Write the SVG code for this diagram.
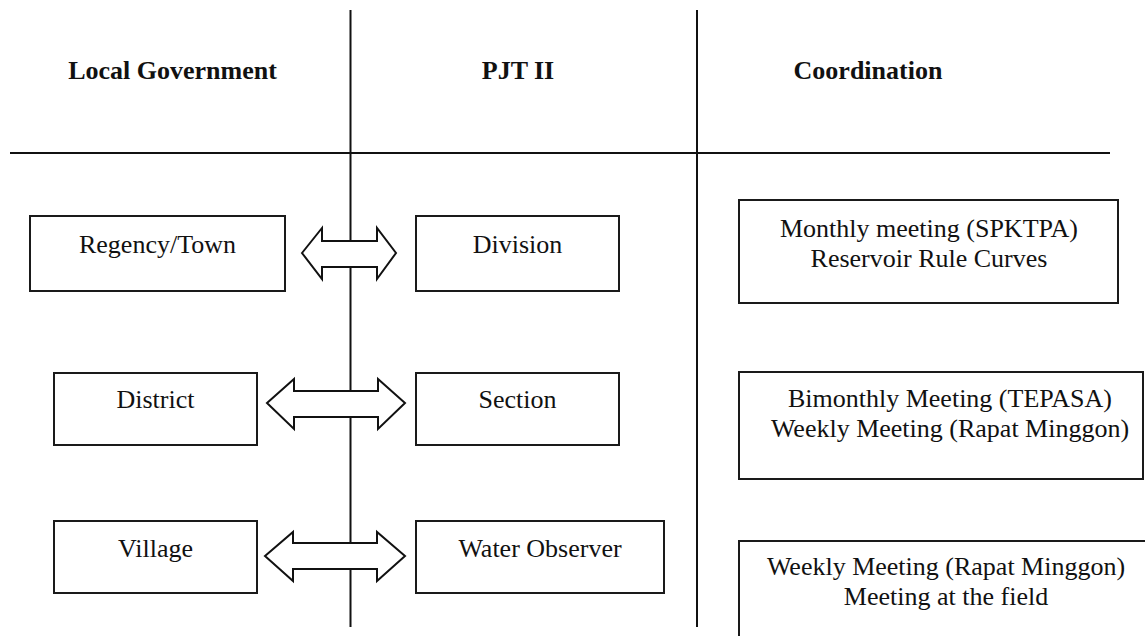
<svg xmlns="http://www.w3.org/2000/svg" width="1145" height="636" viewBox="0 0 1145 636">
<style>
.ln{stroke:#111;stroke-width:2;fill:none}
.box{fill:#fff;stroke:#1a1a1a;stroke-width:2}
.arr{fill:#fff;stroke:#111;stroke-width:2;stroke-linejoin:miter}
.t{font-family:'Liberation Serif',Tinos,'Times New Roman',Times,'DejaVu Serif',serif;font-size:26px;fill:#111;text-anchor:middle}
.h{font-family:'Liberation Serif',Tinos,'Times New Roman',Times,'DejaVu Serif',serif;font-size:26px;font-weight:bold;fill:#111;text-anchor:middle}
</style>
<rect width="1145" height="636" fill="#fff"/>
<g id="grid">
<line class="ln" x1="10" y1="153" x2="1110" y2="153"/>
<line class="ln" x1="350.5" y1="10" x2="350.5" y2="627"/>
<line class="ln" x1="697" y1="10" x2="697" y2="627"/>
</g>
<g id="headers">
<text class="h" x="172.5" y="79">Local Government</text>
<text class="h" x="518" y="79">PJT II</text>
<text class="h" x="868" y="79">Coordination</text>
</g>
<g id="connectors">
<polygon class="arr" points="302,253 322,228 322,241 377,241 377,228 396,253 377,279 377,267 322,267 322,279"/>
<polygon class="arr" points="267,403 294,379 294,391 378,391 378,379 405,403 378,429 378,417 294,417 294,429"/>
<polygon class="arr" points="265,556 293,532 293,543 377,543 377,532 405,556 377,581 377,569 293,569 293,581"/>
</g>
<g id="regency"><rect class="box" x="30" y="216" width="255" height="75"/><text class="t" x="157.5" y="253">Regency/Town</text></g>
<g id="district"><rect class="box" x="54" y="373" width="203" height="72"/><text class="t" x="155.5" y="408">District</text></g>
<g id="village"><rect class="box" x="54" y="521" width="203" height="72"/><text class="t" x="155.5" y="557">Village</text></g>
<g id="division"><rect class="box" x="416" y="216" width="203" height="75"/><text class="t" x="517.5" y="253">Division</text></g>
<g id="section"><rect class="box" x="416" y="373" width="203" height="72"/><text class="t" x="517.5" y="408">Section</text></g>
<g id="observer"><rect class="box" x="416" y="521" width="248" height="72"/><text class="t" x="540" y="557">Water Observer</text></g>
<g id="coord1"><rect class="box" x="739" y="200" width="379" height="103"/><text class="t" x="929" y="237">Monthly meeting (SPKTPA)</text><text class="t" x="929" y="267">Reservoir Rule Curves</text></g>
<g id="coord2"><rect class="box" x="739" y="372" width="404" height="107"/><text class="t" x="950" y="407">Bimonthly Meeting (TEPASA)</text><text class="t" x="950" y="437">Weekly Meeting (Rapat Minggon)</text></g>
<g id="coord3"><rect class="box" x="739" y="541" width="420" height="110"/><text class="t" x="946" y="575">Weekly Meeting (Rapat Minggon)</text><text class="t" x="946" y="605">Meeting at the field</text></g>
</svg>
